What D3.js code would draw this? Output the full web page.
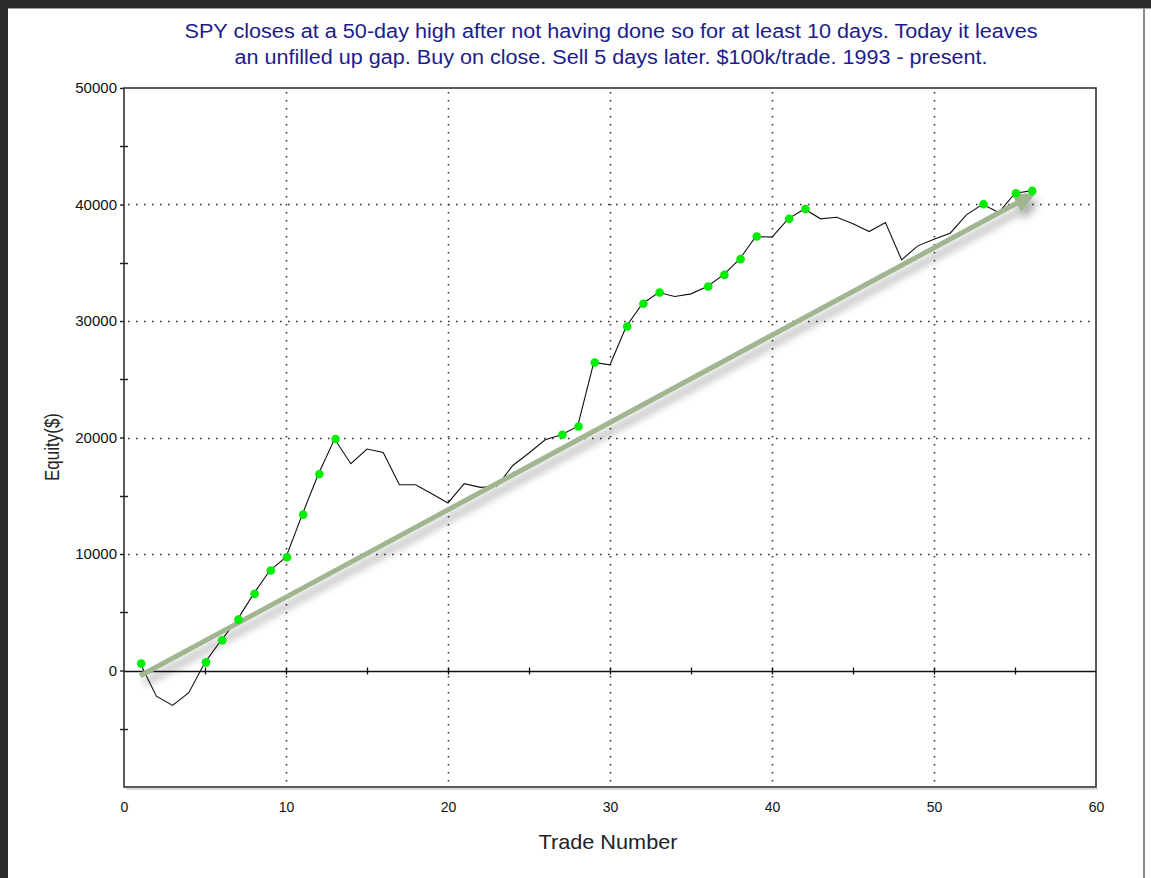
<!DOCTYPE html>
<html>
<head>
<meta charset="utf-8">
<script src="https://cdn.jsdelivr.net/npm/d3@7"></script>
<style>
  html, body { margin: 0; padding: 0; background: #ffffff; }
  svg { display: block; }
</style>
</head>
<body>
<svg id="chart" width="1151" height="878"></svg>
<script>
// ---------- data ----------
const titleLines = [
  "SPY closes at a 50-day high after not having done so for at least 10 days. Today it leaves",
  "an unfilled up gap. Buy on close. Sell 5 days later. $100k/trade. 1993 - present."
];
const xLabel = "Trade Number";
const yLabel = "Equity($)";

const tradeNumbers = [
  1, 2, 3, 4, 5, 6, 7, 8, 9, 10,
  11, 12, 13, 14, 15, 16, 17, 18, 19, 20,
  21, 22, 23, 24, 25, 26, 27, 28, 29, 30,
  31, 32, 33, 34, 35, 36, 37, 38, 39, 40,
  41, 42, 43, 44, 45, 46, 47, 48, 49, 50,
  51, 52, 53, 54, 55, 56
];
const equity = [
  600, -2200, -3000, -1900, 700, 2600, 4370, 6580, 8580, 9720,
  13380, 16870, 19870, 17750, 19010, 18720, 15950, 15950, 15180, 14380,
  16040, 15720, 15810, 17600, 18670, 19810, 20240, 20950, 26440, 26240,
  29530, 31480, 32440, 32100, 32330, 32960, 33960, 35310, 37250, 37200,
  38770, 39620, 38770, 38910, 38340, 37680, 38450, 35250, 36450, 37020,
  37540, 39110, 40020, 39310, 40970, 41170
];
// trades that set a new equity high (green markers)
const newHighTrades = [1, 5, 6, 7, 8, 9, 10, 11, 12, 13, 27, 28, 29, 31, 32, 33, 36, 37, 38, 39, 41, 42, 53, 55, 56];

const xTicks = [0, 10, 20, 30, 40, 50, 60];
const xMinorTicks = [5, 10, 15, 20, 25, 30, 35, 40, 45, 50, 55];
const yTicks = [0, 10000, 20000, 30000, 40000, 50000];
const yMinorTicks = [-5000, 5000, 15000, 25000, 35000, 45000];
const yGrid = [10000, 20000, 30000, 40000];
const xGrid = [10, 20, 30, 40, 50];

// trend arrow annotation [trade, equity]
const trendStart = [1, -450];
const trendEnd = [56.3, 41000];

// ---------- layout ----------
const svg = d3.select("#chart");
const W = 1151, H = 878;
const pL = 124, pR = 1096, pT = 88, pB = 787;
const x = d3.scaleLinear().domain([0, 60]).range([pL, pR]);
const y = d3.scaleLinear().domain([-10000, 50000]).range([pB, pT]);
const font = "'Liberation Sans', Arial, sans-serif";

// window frame
svg.append("rect").attr("x", 0).attr("y", 0).attr("width", W).attr("height", 8).attr("fill", "#2b2b2b");
svg.append("rect").attr("x", 0).attr("y", 0).attr("width", 8).attr("height", H).attr("fill", "#2b2b2b");
svg.append("rect").attr("x", 8).attr("y", 8).attr("width", W - 8).attr("height", 1).attr("fill", "#a0a0a0");
svg.append("rect").attr("x", 1143).attr("y", 8).attr("width", 2).attr("height", H).attr("fill", "#8a8a8a");

const defs = svg.append("defs");
const f = defs.append("filter").attr("id", "shadow").attr("x", "-10%").attr("y", "-10%").attr("width", "130%").attr("height", "130%");
f.append("feGaussianBlur").attr("in", "SourceAlpha").attr("stdDeviation", 4).attr("result", "b");
f.append("feOffset").attr("in", "b").attr("dx", 4).attr("dy", 7).attr("result", "o");
f.append("feComponentTransfer").attr("in", "o").attr("result", "oc")
  .append("feFuncA").attr("type", "linear").attr("slope", 0.35);
const m = f.append("feMerge");
m.append("feMergeNode").attr("in", "oc");
m.append("feMergeNode").attr("in", "SourceGraphic");

// title
const titleWidths = [853, 753];
svg.append("g").selectAll("text").data(titleLines).join("text")
  .attr("x", 611).attr("y", (d, i) => 38 + i * 26)
  .attr("text-anchor", "middle")
  .attr("font-family", font).attr("font-size", 20)
  .attr("textLength", (d, i) => titleWidths[i]).attr("lengthAdjust", "spacingAndGlyphs")
  .attr("fill", "#1c1c8c")
  .text(d => d);

// grid
const grid = svg.append("g").attr("stroke", "#333").attr("stroke-width", 1.6).attr("stroke-dasharray", "1.6,6.4");
grid.selectAll("line.h").data(yGrid).join("line").attr("class", "h")
  .attr("x1", pL + 4).attr("x2", pR).attr("y1", d => Math.round(y(d)) + 0.5).attr("y2", d => Math.round(y(d)) + 0.5);
grid.selectAll("line.v").data(xGrid).join("line").attr("class", "v")
  .attr("y1", pT + 4).attr("y2", pB).attr("x1", d => Math.round(x(d)) + 0.5).attr("x2", d => Math.round(x(d)) + 0.5);

// zero line
svg.append("line").attr("x1", pL).attr("x2", pR).attr("y1", Math.round(y(0)) + 0.5).attr("y2", Math.round(y(0)) + 0.5)
  .attr("stroke", "#111").attr("stroke-width", 1.3);
svg.append("g").selectAll("line").data(xMinorTicks).join("line")
  .attr("x1", d => Math.round(x(d)) + 0.5).attr("x2", d => Math.round(x(d)) + 0.5)
  .attr("y1", y(0) - 3).attr("y2", y(0) + 4)
  .attr("stroke", "#111").attr("stroke-width", 1.3);

// plot frame shadow + frame
svg.append("line").attr("x1", pL + 2).attr("x2", pR + 2).attr("y1", pB + 2).attr("y2", pB + 2).attr("stroke", "#cfcfcf").attr("stroke-width", 1.5);
svg.append("rect").attr("x", pL).attr("y", pT).attr("width", pR - pL).attr("height", pB - pT)
  .attr("fill", "none").attr("stroke", "#333").attr("stroke-width", 1.6);

// y axis ticks via d3 axis
const yAxis = svg.append("g").attr("transform", `translate(${pL},0)`)
  .call(d3.axisLeft(y).tickValues(yTicks).tickFormat(d3.format("d")).tickSize(4).tickPadding(3));
yAxis.select(".domain").remove();
yAxis.selectAll("line").attr("stroke", "#222").attr("stroke-width", 1.4);
yAxis.selectAll("text").attr("font-family", font).attr("font-size", 15).attr("fill", "#111");
svg.append("g").selectAll("line").data(yMinorTicks).join("line")
  .attr("x1", pL - 4).attr("x2", pL + 4)
  .attr("y1", d => Math.round(y(d)) + 0.5).attr("y2", d => Math.round(y(d)) + 0.5)
  .attr("stroke", "#222").attr("stroke-width", 1.4);

// x axis labels
const xAxis = svg.append("g").attr("transform", `translate(0,${pB})`)
  .call(d3.axisBottom(x).tickValues(xTicks).tickFormat(d3.format("d")).tickSize(0).tickPadding(15));
xAxis.select(".domain").remove();
xAxis.selectAll("text").attr("font-family", font).attr("font-size", 14).attr("fill", "#111");

// axis titles
svg.append("text").attr("x", 608).attr("y", 849).attr("text-anchor", "middle")
  .attr("font-family", font).attr("font-size", 21).attr("fill", "#222")
  .attr("textLength", 139).attr("lengthAdjust", "spacingAndGlyphs").text(xLabel);
svg.append("text").attr("transform", "translate(59,447) rotate(-90)").attr("text-anchor", "middle")
  .attr("font-family", font).attr("font-size", 20).attr("fill", "#222")
  .attr("textLength", 68).attr("lengthAdjust", "spacingAndGlyphs").text(yLabel);

// equity line
const pts = tradeNumbers.map((t, i) => ({ t, v: equity[i] }));
svg.append("path").datum(pts)
  .attr("d", d3.line().x(d => x(d.t)).y(d => y(d.v)))
  .attr("fill", "none").attr("stroke", "#111").attr("stroke-width", 1.1);

// trend arrow
const ax1 = x(trendStart[0]), ay1 = y(trendStart[1]);
const ax2 = x(trendEnd[0]), ay2 = y(trendEnd[1]);
const ang = Math.atan2(ay2 - ay1, ax2 - ax1);
const headLen = 22, headHalf = 10;
const bx = ax2 - headLen * Math.cos(ang), by = ay2 - headLen * Math.sin(ang);
const arrow = svg.append("g").attr("filter", "url(#shadow)");
arrow.append("line").attr("x1", ax1).attr("y1", ay1).attr("x2", bx).attr("y2", by)
  .attr("stroke", "#9fb690").attr("stroke-width", 5);
arrow.append("path")
  .attr("d", `M${ax2},${ay2} L${bx + headHalf * Math.sin(ang)},${by - headHalf * Math.cos(ang)} L${bx - headHalf * Math.sin(ang)},${by + headHalf * Math.cos(ang)} Z`)
  .attr("fill", "#9fb690");

// new-high markers
svg.append("g").selectAll("circle").data(pts.filter(d => newHighTrades.includes(d.t))).join("circle")
  .attr("cx", d => x(d.t) + 1).attr("cy", d => y(d.v)).attr("r", 4.3)
  .attr("fill", "#00ee00");
</script>
</body>
</html>
